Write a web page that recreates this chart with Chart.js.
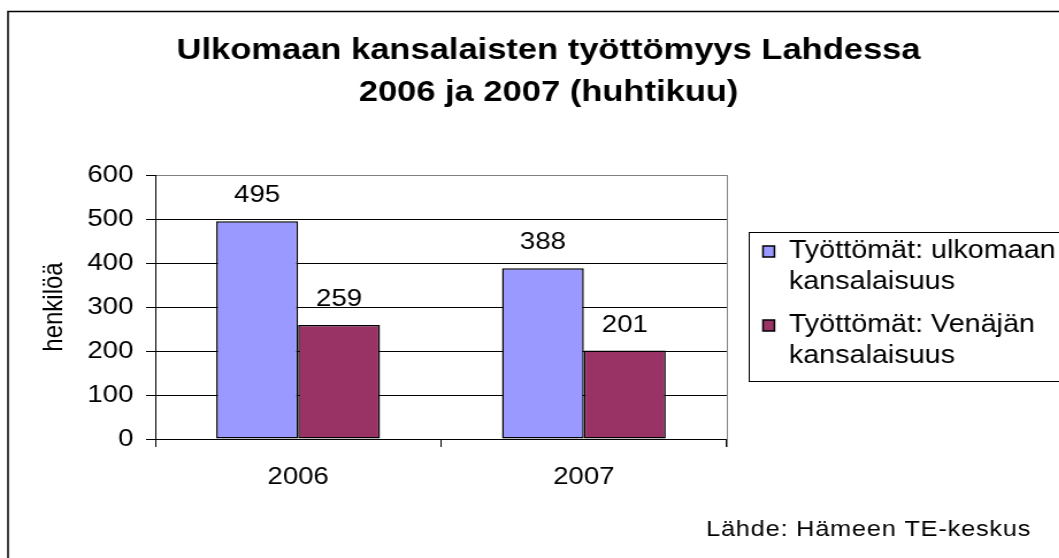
<!DOCTYPE html>
<html>
<head>
<meta charset="utf-8">
<script src="https://cdn.jsdelivr.net/npm/chart.js@4.4.1/dist/chart.umd.min.js"></script>
<style>
  html, body { margin: 0; padding: 0; background: #fff; overflow: hidden; }
  /* the reference is a slightly widened Excel chart, so stretch the canvas horizontally */
  #wrap { width: 954px; height: 558px; transform: scaleX(1.15); transform-origin: 0 0; }
</style>
</head>
<body>
<div id="wrap"><canvas id="chart" width="954" height="558"></canvas></div>
<script>
const categories = ['2006', '2007'];
const ulkomaan = [495, 388];
const venajan = [259, 201];
const seriesNames = [
    ['Työttömät: ulkomaan', 'kansalaisuus'],
    ['Työttömät: Venäjän', 'kansalaisuus']
];
const yTicks = [0, 100, 200, 300, 400, 500, 600];
const titleLines = ['Ulkomaan kansalaisten työttömyys Lahdessa', '2006 ja 2007 (huhtikuu)'];
const sourceText = 'Lähde: Hämeen TE-keskus';

const FONT = '"Liberation Sans", Arial, sans-serif';
Chart.defaults.font.family = FONT;
Chart.defaults.color = '#000';

// numbers above the bars
const valueLabels = {
    id: 'valueLabels',
    afterDatasetsDraw(chart) {
        const ctx = chart.ctx;
        ctx.save();
        ctx.font = '24px ' + FONT;
        ctx.fillStyle = '#000';
        ctx.textAlign = 'center';
        ctx.textBaseline = 'alphabetic';
        chart.data.datasets.forEach((ds, i) => {
            chart.getDatasetMeta(i).data.forEach((bar, j) => {
                ctx.fillText(String(ds.data[j]), bar.x, bar.y - 19);
            });
        });
        ctx.restore();
    }
};

// outer frame, plot border, legend box and source note
const frame = {
    id: 'frame',
    afterDraw(chart) {
        const { ctx, chartArea: a, legend } = chart;
        ctx.save();
        ctx.strokeStyle = '#808080';
        ctx.lineWidth = 1;
        ctx.beginPath();
        ctx.moveTo(a.right + 0.5, a.top);
        ctx.lineTo(a.right + 0.5, a.bottom + 8);
        ctx.stroke();

        ctx.strokeStyle = '#000';
        ctx.lineWidth = 1.5;
        ctx.strokeRect(7, 11.5, chart.width + 20, chart.height + 20);

        const hb = legend.legendHitBoxes;
        const last = hb[hb.length - 1];
        const top = Math.round(hb[0].top - 7);
        const bottom = Math.round(last.top + last.height + 6);
        ctx.lineWidth = 1;
        ctx.strokeRect(Math.round(legend.left) + 0.5, top + 0.5, legend.width + 40, bottom - top);

        ctx.font = '22px ' + FONT;
        if ('letterSpacing' in ctx) ctx.letterSpacing = '0.7px';
        ctx.fillStyle = '#000';
        ctx.textAlign = 'left';
        ctx.textBaseline = 'alphabetic';
        ctx.fillText(sourceText, 614, 536);
        ctx.restore();
    }
};

const ctx = document.getElementById('chart').getContext('2d');
new Chart(ctx, {
    type: 'bar',
    data: {
        labels: categories,
        datasets: [
            {
                label: seriesNames[0].join(' '),
                data: ulkomaan,
                backgroundColor: '#9999FF',
                borderColor: '#000',
                borderWidth: 1.5,
                borderSkipped: false
            },
            {
                label: seriesNames[1].join(' '),
                data: venajan,
                backgroundColor: '#993366',
                borderColor: '#000',
                borderWidth: 1.5,
                borderSkipped: false
            }
        ]
    },
    options: {
        responsive: false,
        animation: false,
        datasets: { bar: { categoryPercentage: 0.573, barPercentage: 1 } },
        layout: { padding: { left: 26, right: 26, top: 12, bottom: 59 } },
        scales: {
            x: {
                offset: true,
                grid: { display: true, offset: true, drawOnChartArea: false, tickLength: 8, color: '#000' },
                border: { color: '#000' },
                ticks: { font: { size: 24 }, color: '#000', padding: 15.6 },
                afterFit(s) { s.height = 60; }
            },
            y: {
                min: 0,
                max: 600,
                afterBuildTicks(s) { s.ticks = yTicks.map(v => ({ value: v })); },
                ticks: { font: { size: 24 }, color: '#000', padding: 11 },
                grid: {
                    color: c => (c.tick && c.tick.value === 600 ? '#808080' : '#000'),
                    tickColor: '#000',
                    tickLength: 8,
                    lineWidth: 1
                },
                border: { color: '#000' },
                title: {
                    display: true,
                    text: 'henkilöä',
                    font: { size: 24 },
                    color: '#000',
                    padding: { top: 6.6, bottom: 0 }
                },
                afterFit(s) { s.width = 109; }
            },
            // empty axis only used as the gap between plot and legend
            gap: {
                position: 'right',
                display: true,
                ticks: { display: false },
                grid: { display: false },
                border: { display: false },
                afterFit(s) { s.width = 19.5; }
            }
        },
        plugins: {
            title: {
                display: true,
                text: titleLines,
                font: { size: 30, weight: 'bold', lineHeight: 1.4 },
                color: '#000',
                padding: { top: 18, bottom: 61 }
            },
            legend: {
                position: 'right',
                fullSize: false,
                align: 'center',
                maxWidth: 400,
                labels: {
                    font: { size: 25, lineHeight: 1.24 },
                    color: '#000',
                    boxWidth: 10,
                    boxHeight: 11,
                    padding: 12,
                    generateLabels(chart) {
                        const items = Chart.defaults.plugins.legend.labels.generateLabels(chart);
                        items.forEach((it, i) => { it.text = seriesNames[i]; });
                        return items;
                    }
                }
            },
            tooltip: { enabled: false }
        }
    },
    plugins: [valueLabels, frame]
});
</script>
</body>
</html>
